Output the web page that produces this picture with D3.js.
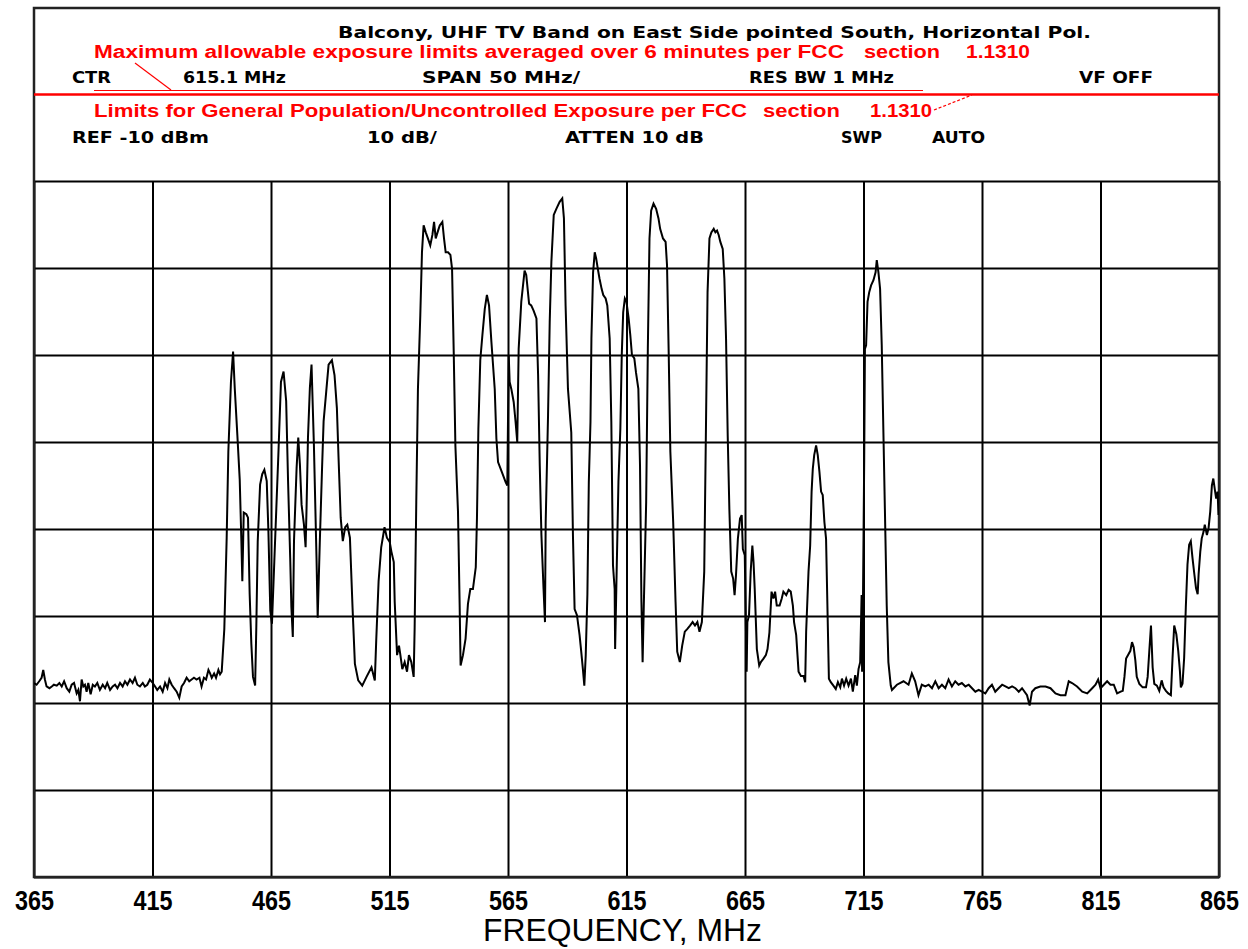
<!DOCTYPE html>
<html><head><meta charset="utf-8">
<script src="https://cdn.jsdelivr.net/npm/d3@7/dist/d3.min.js"></script>
<style>html,body{margin:0;padding:0;background:#fff}svg{display:block}</style>
</head><body>
<svg id="chart" width="1248" height="949"></svg>
<script>
// ---------- data ----------
const freqTicks = [365,415,465,515,565,615,665,715,765,815,865];
const levelTicks = [-10,-20,-30,-40,-50,-60,-70,-80,-90];
const xLabel = "FREQUENCY, MHz";
const titleText = "Balcony, UHF TV Band on East Side pointed South, Horizontal Pol.";
const row1Labels = ["CTR","615.1 MHz","SPAN 50 MHz/","RES BW 1 MHz","VF OFF"];
const row2Labels = ["REF -10 dBm","10 dB/","ATTEN 10 dB","SWP","AUTO"];
const redLine1 = ["Maximum allowable exposure limits averaged over 6 minutes per FCC","section","1.1310"];
const redLine2 = ["Limits for General Population/Uncontrolled Exposure per FCC","section","1.1310"];

const traceFreq = [
365.0,366.1,367.2,368.2,368.9,369.6,370.3,371.5,372.5,373.4,374.6,375.7,376.7,377.7,378.8,379.9,380.9,381.9,383.0,383.7,
384.4,385.1,385.8,386.5,387.2,387.9,388.9,389.8,390.7,391.7,392.8,394.0,395.0,395.9,397.1,398.2,399.2,400.2,401.3,402.4,
403.4,404.4,405.5,406.6,407.6,408.6,409.7,410.9,411.8,412.8,413.9,415.1,416.1,417.0,418.2,419.3,420.3,421.3,422.1,423.1,
424.1,425.2,426.3,427.3,428.3,429.4,430.5,431.5,432.5,433.6,434.8,435.7,436.7,437.6,438.6,439.3,440.0,441.0,441.8,442.8,
443.5,444.2,
445.3,446.3,447.0,448.1,449.0,449.7,450.8,451.8,452.5,452.9,453.5,454.6,455.3,456.0,456.7,457.4,458.3,458.8,459.4,460.4,
461.3,462.2,463.2,463.9,464.7,465.4,466.4,468.1,469.2,470.3,471.4,472.2,473.1,473.6,474.2,474.7,475.8,476.5,477.2,477.9,
478.9,479.6,480.0,480.6,481.4,482.1,483.1,484.2,484.7,485.6,486.5,487.2,488.3,489.3,490.7,491.8,492.8,493.5,494.4,495.3,
496.3,497.2,498.3,499.4,500.4,501.8,503.5,505.3,507.4,508.8,509.4,510.4,511.5,512.9,513.9,
515.1,515.8,516.8,517.2,518.2,519.0,519.6,520.4,521.4,522.4,523.2,524.2,525.2,525.6,526.3,527.0,528.0,528.7,529.4,530.3,
531.2,532.2,533.1,533.8,534.5,535.5,536.2,537.3,538.0,538.7,539.7,540.7,541.4,542.1,542.8,543.9,544.6,545.0,546.0,547.1,
548.1,549.1,550.2,551.4,551.9,552.5,553.3,554.2,555.2,556.1,557.0,558.0,559.4,560.1,560.8,561.9,562.9,564.0,564.7,565.3,
565.7,566.4,567.4,568.2,568.9,569.5,570.6,572.0,572.7,573.9,574.8,575.8,577.0,577.7,578.4,579.1,580.0,580.6,580.9,581.9,
582.6,583.3,584.3,585.4,586.8,587.9,588.6,589.3,590.3,591.7,592.4,593.1,594.1,595.2,595.9,596.6,597.2,597.8,598.5,599.1,
599.8,600.2,600.9,601.6,602.2,602.9,603.6,604.5,605.2,606.2,606.9,607.9,608.6,609.3,610.0,610.2,610.7,611.6,612.4,613.0,
613.6,614.3,615.0,615.9,616.6,617.3,618.3,619.0,620.0,620.7,621.3,621.8,622.3,623.3,624.0,624.7,625.4,626.4,627.5,628.5,
629.2,630.4,631.5,632.1,632.8,633.5,634.7,635.7,636.4,637.5,638.5,639.6,640.6,641.8,642.9,643.9,644.9,645.8,646.8,647.8,
648.5,649.2,650.0,650.8,651.8,652.5,653.2,653.9,654.6,655.6,656.3,657.0,657.7,658.4,659.2,660.0,660.6,661.2,662.0,662.9,
663.6,664.1,664.9,665.3,665.7,666.0,666.7,667.4,668.1,668.6,669.1,670.0,671.0,671.7,672.8,673.8,674.5,675.3,
676.2,677.0,677.7,678.4,679.6,680.5,681.2,682.4,683.4,684.3,685.2,685.7,686.6,687.6,688.6,689.7,690.4,690.8,691.8,692.5,
693.1,693.6,694.2,695.0,695.7,696.4,697.1,697.8,698.5,699.2,699.8,700.4,701.2,702.3,703.3,704.2,705.2,705.9,706.8,707.7,
708.7,709.7,710.5,711.5,712.2,712.9,713.6,714.2,714.4,714.7,715.3,715.6,716.1,716.7,717.4,718.2,719.2,720.1,720.6,721.3,
722.0,722.7,723.4,724.1,724.8,725.5,726.5,
727.0,729.1,731.9,734.0,735.4,736.8,738.2,739.6,741.1,742.5,743.9,745.3,746.7,748.1,749.5,750.9,752.3,753.7,755.1,756.5,
758.0,759.4,760.8,762.2,763.6,765.0,766.4,767.8,769.2,770.6,772.0,773.5,774.9,776.3,777.7,779.1,780.5,781.9,784.0,785.1,
786.1,787.5,789.6,791.8,793.9,796.0,798.1,800.2,801.6,803.0,805.1,807.3,809.4,811.5,812.9,814.0,815.0,816.4,817.8,819.2,
820.6,822.0,823.5,
824.4,825.1,825.8,826.8,827.6,828.3,829.0,829.7,830.3,831.4,832.8,834.2,834.9,835.6,836.3,837.0,837.7,838.8,839.8,840.8,
841.6,842.6,843.6,844.7,845.4,846.1,847.0,847.8,848.5,848.9,849.6,850.3,851.0,851.7,852.4,853.1,853.8,854.6,855.3,856.0,
856.4,857.1,857.7,858.5,859.0,859.9,860.6,861.3,862.0,862.6,863.2,863.8,864.4,864.8
];
const traceDbm = [
-67.7,-67.9,-67.5,-67.1,-66.2,-67.3,-68.1,-68.3,-68.1,-67.9,-68.0,-67.7,-68.1,-67.5,-68.3,-68.7,-67.9,-67.7,-68.9,-68.5,
-69.8,-67.3,-68.1,-67.9,-68.7,-67.7,-69.0,-67.9,-68.1,-67.7,-68.5,-67.9,-68.3,-67.7,-68.5,-68.1,-67.9,-68.3,-67.7,-68.1,
-67.5,-67.9,-67.3,-67.7,-67.1,-67.9,-68.1,-67.7,-68.1,-67.9,-67.3,-67.7,-68.1,-68.5,-68.1,-68.7,-67.7,-68.3,-67.3,-67.9,
-68.3,-68.7,-69.4,-68.1,-67.7,-67.1,-67.5,-67.3,-67.1,-67.3,-67.1,-68.1,-67.1,-67.3,-66.2,-66.6,-67.1,-66.6,-67.1,-66.2,
-66.7,-66.4,
-61.5,-51.0,-41.1,-33.1,-29.6,-33.8,-39.2,-44.3,-51.4,-56.0,-48.1,-48.3,-48.7,-57.5,-63.2,-67.0,-68.0,-61.3,-51.4,-44.9,
-43.7,-43.2,-44.5,-50.2,-59.4,-60.9,-53.7,-41.5,-33.1,-31.9,-35.3,-44.5,-53.3,-59.0,-62.4,-51.4,-43.0,-39.5,-42.6,-47.2,
-49.5,-52.1,-47.6,-39.5,-33.8,-31.1,-40.3,-53.3,-60.2,-51.4,-43.4,-37.6,-34.2,-31.1,-30.6,-32.3,-36.1,-41.8,-48.7,-51.4,
-49.8,-49.5,-51.0,-59.0,-65.5,-67.4,-68.0,-67.0,-65.9,-67.4,-62.8,-56.0,-52.1,-49.8,-51.0,
-51.5,-52.6,-53.8,-58.4,-64.5,-63.4,-64.5,-66.1,-65.3,-66.4,-64.5,-65.3,-67.0,-61.5,-46.9,-33.9,-25.4,-18.2,-15.1,-15.9,
-16.6,-17.4,-16.2,-14.7,-16.6,-15.7,-15.1,-14.7,-16.6,-18.2,-18.2,-18.5,-20.1,-29.7,-40.4,-48.0,-58.8,-65.7,-64.5,-62.6,
-58.6,-56.9,-56.9,-54.4,-48.8,-38.5,-30.6,-27.7,-24.7,-23.1,-24.3,-28.5,-33.9,-39.6,-42.3,-43.1,-43.8,-44.6,-45.0,-30.0,
-33.1,-33.9,-35.4,-37.7,-40.0,-29.3,-23.9,-20.3,-20.8,-24.1,-24.3,-24.9,-25.8,-32.3,-42.7,-50.7,-56.9,-60.7,-49.2,-36.9,
-26.2,-19.3,-13.9,-13.2,-12.4,-12.0,-14.3,-24.3,-33.9,-38.9,-50.7,-59.2,-59.9,-62.2,-64.1,-66.1,-68.0,-64.5,-57.5,-44.6,
-37.7,-28.1,-20.5,-18.2,-18.9,-20.1,-21.2,-22.4,-23.1,-23.5,-24.3,-28.1,-37.7,-54.2,-56.9,-63.8,-56.9,-44.6,-38.5,-30.0,
-25.1,-23.5,-23.9,-25.8,-27.7,-30.0,-30.4,-32.0,-33.9,-42.7,-58.4,-65.3,-58.8,-46.9,-29.3,-16.6,-13.4,-12.6,-13.2,-14.3,
-15.5,-16.6,-17.0,-19.7,-29.7,-41.1,-49.2,-58.4,-64.1,-65.3,-63.4,-61.8,-61.5,-61.1,-60.7,-61.1,-60.7,-61.8,-60.7,-54.9,
-38.9,-22.8,-16.6,-15.9,-15.5,-15.9,-15.7,-16.2,-17.0,-17.8,-21.2,-28.1,-39.2,-47.7,-54.9,-55.7,-57.6,-55.3,-51.1,-48.8,
-48.4,-52.3,-53.0,-59.9,-66.4,-60.7,-59.9,-54.9,-51.9,-53.8,-56.9,-63.8,-65.7,-65.3,-64.9,-64.5,-63.8,-61.9,
-57.2,-58.0,-57.2,-58.8,-58.8,-58.0,-57.2,-57.6,-57.0,-57.2,-58.8,-60.7,-62.2,-66.4,-66.9,-66.9,-67.6,-61.8,-54.9,-51.9,
-45.7,-43.1,-41.5,-40.4,-41.5,-43.4,-45.7,-46.1,-49.2,-51.1,-59.2,-67.2,-67.6,-68.0,-68.4,-67.6,-68.2,-67.2,-68.0,-67.2,
-68.0,-67.2,-68.7,-66.8,-68.0,-66.1,-65.3,-57.6,-66.4,-60.7,-41.9,-29.3,-28.9,-23.9,-22.8,-22.0,-21.4,-20.5,-19.1,-20.5,
-22.4,-28.9,-38.9,-48.8,-58.8,-65.3,-68.0,
-68.5,-67.9,-67.5,-67.9,-66.6,-67.5,-69.1,-67.9,-68.1,-67.9,-68.3,-67.5,-68.3,-67.9,-68.3,-67.3,-68.1,-67.5,-67.9,-67.7,
-68.1,-67.9,-68.3,-68.7,-68.5,-68.7,-68.9,-68.3,-67.9,-68.7,-68.3,-67.9,-68.1,-68.3,-68.1,-68.3,-68.7,-68.3,-69.1,-70.3,
-68.7,-68.3,-68.1,-68.1,-68.3,-68.9,-69.1,-69.1,-67.5,-67.7,-68.1,-68.7,-68.9,-68.3,-67.9,-67.3,-68.3,-67.9,-67.5,-67.9,
-67.9,-68.9,-68.7,
-68.6,-67.0,-64.9,-64.4,-64.0,-63.0,-63.6,-65.1,-67.0,-67.8,-68.2,-68.2,-67.0,-64.0,-61.1,-65.9,-67.8,-68.0,-68.6,-67.4,
-68.2,-68.6,-68.9,-69.1,-64.8,-61.1,-62.1,-64.0,-66.3,-68.2,-67.8,-64.8,-59.0,-54.1,-51.8,-51.4,-53.3,-55.2,-56.8,-57.5,
-55.2,-52.6,-51.1,-50.3,-49.5,-50.7,-49.9,-48.0,-45.0,-44.2,-45.4,-46.5,-45.7,-48.4
];

// ---------- layout ----------
const W = 1248, H = 949;
const frame = {left: 34, right: 1219, top: 8, plotTop: 181, bottom: 877};

const svg = d3.select("#chart");
svg.append("rect").attr("width", W).attr("height", H).attr("fill", "#fff");

const x = d3.scaleLinear().domain([365, 865]).range([frame.left, frame.right]);
const y = d3.scaleLinear().domain([-10, -90]).range([frame.plotTop, frame.bottom]);

// vertical grid + tick labels
const xAxis = d3.axisBottom(x).tickValues(freqTicks)
  .tickSize(-(frame.bottom - frame.plotTop)).tickPadding(11).tickFormat(d3.format("d"));
const gx = svg.append("g").attr("transform", `translate(0,${frame.bottom})`).call(xAxis);
gx.select(".domain").remove();
gx.selectAll(".tick line").attr("stroke", "#000").attr("stroke-width", 2);
gx.selectAll(".tick text")
  .attr("fill", "#000")
  .attr("font-family", "'Liberation Sans', Arial, sans-serif")
  .attr("font-weight", "bold")
  .attr("font-size", 28)
  .attr("textLength", 39)
  .attr("lengthAdjust", "spacingAndGlyphs")
  .attr("dy", null).attr("y", 33);

// horizontal grid
const yAxis = d3.axisLeft(y).tickValues(levelTicks)
  .tickSize(-(frame.right - frame.left)).tickFormat("");
const gy = svg.append("g").attr("transform", `translate(${frame.left},0)`).call(yAxis);
gy.select(".domain").remove();
gy.selectAll(".tick line").attr("stroke", "#000").attr("stroke-width", 2);

// outer frame
svg.append("rect")
  .attr("x", frame.left).attr("y", frame.top)
  .attr("width", frame.right - frame.left).attr("height", frame.bottom - frame.top)
  .attr("fill", "none").attr("stroke", "#222").attr("stroke-width", 2.5);

// trace
const trace = traceFreq.map((f, i) => ({f, v: traceDbm[i]}));
svg.append("clipPath").attr("id", "plotclip").append("rect")
  .attr("x", frame.left).attr("y", frame.plotTop)
  .attr("width", frame.right - frame.left).attr("height", frame.bottom - frame.plotTop);
svg.append("path").datum(trace)
  .attr("clip-path", "url(#plotclip)")
  .attr("fill", "none").attr("stroke", "#000").attr("stroke-width", 2)
  .attr("stroke-linejoin", "miter")
  .attr("d", d3.line().x(d => x(d.f)).y(d => y(d.v)));

// x label
svg.append("text").text(xLabel)
  .attr("x", 483).attr("y", 941)
  .attr("font-family", "'Liberation Sans', Arial, sans-serif")
  .attr("font-size", 31).attr("fill", "#000")
  .attr("textLength", 279).attr("lengthAdjust", "spacingAndGlyphs");

// header: black instrument text
const blackFont = "'DejaVu Sans', Verdana, sans-serif";
function blackText(t, x0, yb, w) {
  svg.append("text").text(t).attr("x", x0).attr("y", yb)
    .attr("font-family", blackFont).attr("font-weight", "bold").attr("font-size", 15)
    .attr("fill", "#000").attr("textLength", w).attr("lengthAdjust", "spacingAndGlyphs");
}
blackText(titleText, 338, 38, 753);
const row1Pos = [[72,39],[183,103],[422,158],[749,145],[1079,74]];
row1Labels.forEach((t, i) => blackText(t, row1Pos[i][0], 83, row1Pos[i][1]));
const row2Pos = [[72,137],[367,70],[565,139],[841,41],[932,53]];
row2Labels.forEach((t, i) => blackText(t, row2Pos[i][0], 143, row2Pos[i][1]));

// header: red annotations
const red = "#ff0000";
function redText(t, x0, yb, w) {
  svg.append("text").text(t).attr("x", x0).attr("y", yb)
    .attr("font-family", "'Liberation Sans', Arial, sans-serif").attr("font-weight", "bold")
    .attr("font-size", 18).attr("fill", red)
    .attr("textLength", w).attr("lengthAdjust", "spacingAndGlyphs");
}
const red1Pos = [[94,750],[864,76],[966,64]];
redLine1.forEach((t, i) => redText(t, red1Pos[i][0], 58, red1Pos[i][1]));
const red2Pos = [[94,653],[763,77],[870,62]];
redLine2.forEach((t, i) => redText(t, red2Pos[i][0], 117, red2Pos[i][1]));

// red separator lines
svg.append("line").attr("x1", frame.left).attr("x2", frame.right).attr("y1", 94.5).attr("y2", 94.5)
  .attr("stroke", red).attr("stroke-width", 2.5);
svg.append("line").attr("x1", 94).attr("x2", 923).attr("y1", 90.5).attr("y2", 90.5)
  .attr("stroke", red).attr("stroke-width", 1.2);
svg.append("line").attr("x1", 135).attr("y1", 63).attr("x2", 171).attr("y2", 90)
  .attr("stroke", red).attr("stroke-width", 1.2);
svg.append("line").attr("x1", 934).attr("y1", 110).attr("x2", 972).attr("y2", 95)
  .attr("stroke", red).attr("stroke-width", 1.2).attr("stroke-dasharray", "3,2");
</script>
</body></html>
